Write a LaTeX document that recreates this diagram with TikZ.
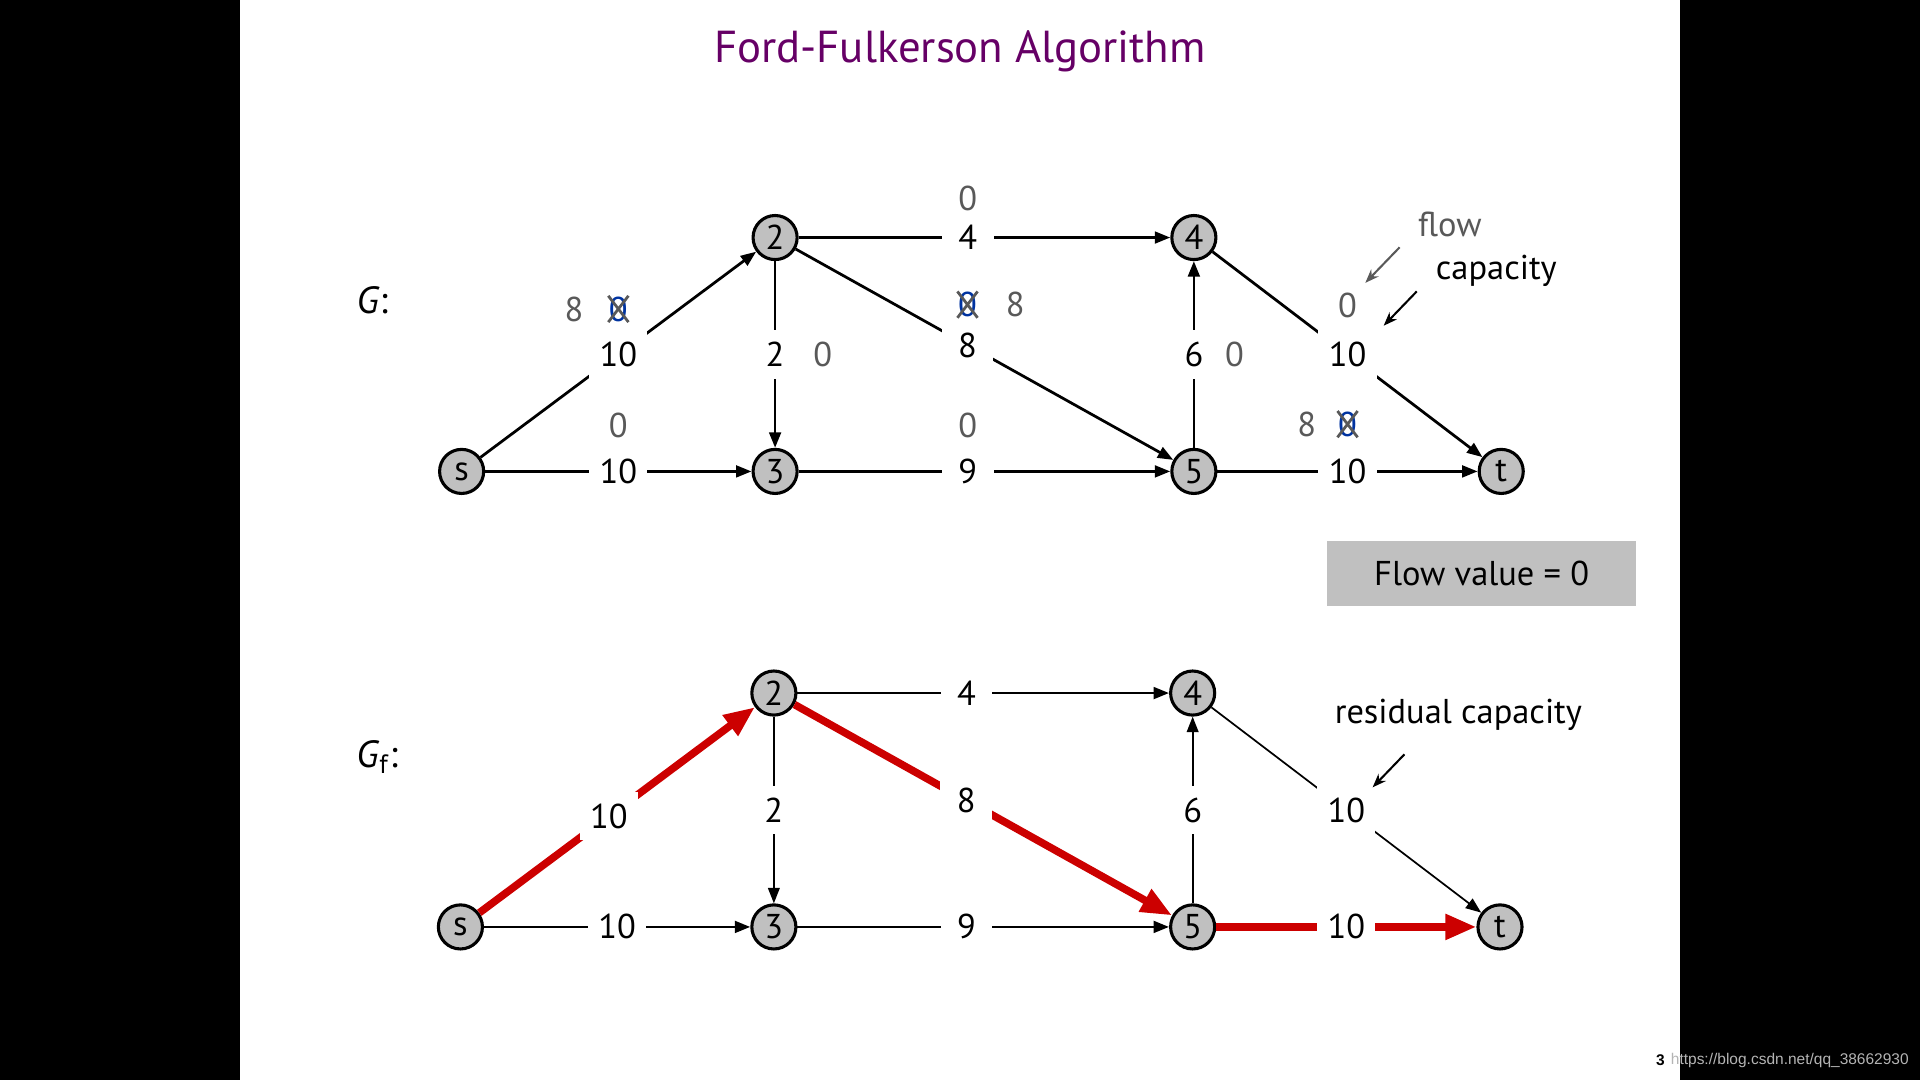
\documentclass[tikz,border=0pt]{standalone}
\usepackage{fontspec}
\setmainfont{PT Sans}
\newfontfamily\wmfont{Liberation Sans}
\usepackage{xcolor}
\usepackage{tikz}
\usetikzlibrary{positioning,calc,arrows.meta}
\definecolor{titlepurple}{HTML}{660066}
\definecolor{nodegray}{HTML}{C0C0C0}
\definecolor{flowgray}{HTML}{595959}
\definecolor{zeroblue}{HTML}{0033A0}
\definecolor{pathred}{HTML}{CC0000}
\definecolor{urlgray}{HTML}{B4B4B4}
\newcommand{\lbl}{\fontsize{10}{12}\selectfont}

\begin{document}
\begin{tikzpicture}[x=0.0125cm,y=-0.0125cm,
    vertex/.style={circle,draw,line width=0.9pt,fill=nodegray,minimum size=12.8pt,inner sep=0pt,font=\lbl},
    flowedge/.style={line width=0.8pt,-{Triangle[length=4.5pt,width=3.4pt]}},
    thinedge/.style={flowedge,line width=0.5pt},
    augment/.style={draw=pathred,line width=2.2pt,-{Triangle[length=9pt,width=7pt]}},
    caplbl/.style={fill=white,inner sep=3pt,minimum width=15pt,minimum height=14pt,font=\lbl},
    flowlbl/.style={text=flowgray,inner sep=1pt,font=\lbl},
    xzero/.style={flowlbl,text=zeroblue,inner sep=0pt},
    xmark/.style={draw=flowgray,line width=0.8pt},
    notearrow/.style={line width=0.6pt,-{Stealth[length=4pt,width=3pt]}}]
    \useasboundingbox (0,0) rectangle (1568,882);
    % black side bars
    \fill[black] (0,0) rectangle (196,882);
    \fill[black] (1372,0) rectangle (1568,882);
    \node[text=titlepurple,font=\fontsize{13}{16}\selectfont] (title) at (784,42) {Ford-Fulkerson Algorithm};

    % network G
    \node[font=\fontsize{11}{13}\selectfont] (G) at (304,245) {\textit{G}:};
    \node[vertex] (s) at (377,385) {s};
    \node[vertex] (n2) at (633,194) {2};
    \node[vertex] (n3) at (633,385) {3};
    \node[vertex] (n4) at (975,194) {4};
    \node[vertex] (n5) at (975,385) {5};
    \node[vertex] (t) at (1226,385) {t};
    \draw[flowedge] (s) -- node[caplbl] (c-s2) {10} (n2);
    \draw[flowedge] (s) -- node[caplbl] (c-s3) {10} (n3);
    \draw[flowedge] (n2) -- node[caplbl] (c-23) {2} (n3);
    \draw[flowedge] (n2) -- node[caplbl,pos=0.455] (c-24) {4} (n4);
    \draw[flowedge] (n2) -- node[caplbl,pos=0.455] (c-25) {8} (n5);
    \draw[flowedge] (n3) -- node[caplbl,pos=0.455] (c-35) {9} (n5);
    \draw[flowedge] (n5) -- node[caplbl] (c-54) {6} (n4);
    \draw[flowedge] (n4) -- node[caplbl] (c-4t) {10} (t);
    \draw[flowedge] (n5) -- node[caplbl] (c-5t) {10} (t);

    % flows
    \node[xzero,above=2pt of c-s2] (x-s2) {0};
    \draw[xmark] (x-s2.south west) -- (x-s2.north east) (x-s2.north west) -- (x-s2.south east);
    \node[flowlbl,left=6pt of x-s2] (f-s2) {8};
    \node[flowlbl,above=1pt of c-s3] (f-s3) {0};
    \node[flowlbl,right=2pt of c-23] (f-23) {0};
    \node[flowlbl,above=-1pt of c-24] (f-24) {0};
    \node[xzero,above=0.5pt of c-25] (x-25) {0};
    \draw[xmark] (x-25.south west) -- (x-25.north east) (x-25.north west) -- (x-25.south east);
    \node[flowlbl,right=7pt of x-25] (f-25) {8};
    \node[flowlbl,above=1pt of c-35] (f-35) {0};
    \node[flowlbl,right=0pt of c-54] (f-54) {0};
    \node[flowlbl,above=2pt of c-4t] (f-4t) {0};
    \node[xzero,above=2.5pt of c-5t] (x-5t) {0};
    \draw[xmark] (x-5t.south west) -- (x-5t.north east) (x-5t.north west) -- (x-5t.south east);
    \node[flowlbl,left=5pt of x-5t] (f-5t) {8};

    % legend
    \node[flowlbl] (flow) at (1184,183) {flow};
    \node[font=\lbl] (capacity) at (1222,221) {capacity};
    \coordinate (flow-tail) at (1143,202);
    \coordinate (flow-tip) at (1115,231);
    \coordinate (cap-tail) at (1157,238);
    \coordinate (cap-tip) at (1130,266);
    \draw[notearrow,draw=flowgray] (flow-tail) -- (flow-tip);
    \draw[notearrow] (cap-tail) -- (cap-tip);

    \node[fill=nodegray,minimum width=252*0.0125cm,minimum height=53*0.0125cm,font=\lbl] (value) at (1210,468.5) {Flow value = 0};

    % residual graph G_f
    \node[font=\fontsize{11}{13}\selectfont] (Gf) at (308,618) {\textit{G}\textsubscript{f}:};
    \begin{scope}[shift={(-1,372)}]
    \node[vertex] (rs) at (377,385) {s};
    \node[vertex] (r2) at (633,194) {2};
    \node[vertex] (r3) at (633,385) {3};
    \node[vertex] (r4) at (975,194) {4};
    \node[vertex] (r5) at (975,385) {5};
    \node[vertex] (rt) at (1226,385) {t};
    \end{scope}
    \draw[augment] (rs) -- node[caplbl,pos=0.47] (rc-s2) {10} (r2);
    \draw[flowedge] (rs) -- node[caplbl] (rc-s3) {10} (r3);
    \draw[thinedge] (r2) -- node[caplbl] (rc-23) {2} (r3);
    \draw[flowedge] (r2) -- node[caplbl,pos=0.455] (rc-24) {4} (r4);
    \draw[augment] (r2) -- node[caplbl,pos=0.455] (rc-25) {8} (r5);
    \draw[flowedge] (r3) -- node[caplbl,pos=0.455] (rc-35) {9} (r5);
    \draw[thinedge] (r5) -- node[caplbl] (rc-54) {6} (r4);
    \draw[thinedge] (r4) -- node[caplbl] (rc-4t) {10} (rt);
    \draw[augment] (r5) -- node[caplbl] (rc-5t) {10} (rt);

    \node[font=\lbl] (residual) at (1191,584) {residual capacity};
    \coordinate (res-tail) at (1147,616);
    \coordinate (res-tip) at (1121,643);
    \draw[notearrow] (res-tail) -- (res-tip);

    % page number and watermark
    \node[font=\wmfont\fontsize{4.5}{5.5}\selectfont\bfseries] (page) at (1356,866) {3};
    \node[text=urlgray,font=\wmfont\fontsize{4.5}{5.5}\selectfont,anchor=west,inner sep=0pt] (url) at (1364,866) {https://blog.csdn.net/qq\_38662930};
\end{tikzpicture}
\end{document}
